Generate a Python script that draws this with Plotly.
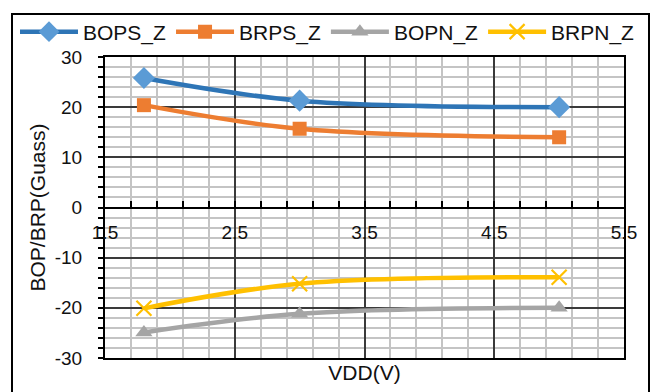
import plotly.graph_objects as go

vdd = [1.8, 3.0, 5.0]
bops_z = [25.8, 21.3, 20.0]
brps_z = [20.4, 15.7, 14.0]
bopn_z = [-24.9, -21.2, -20.0]
brpn_z = [-20.1, -15.2, -13.9]

x_ticks = [1.5, 2.5, 3.5, 4.5, 5.5]
y_ticks = [-30, -20, -10, 0, 10, 20, 30]

FONT = "Liberation Sans, Arial, sans-serif"
L, R, T, B = 105, 29, 57, 34
W, H = 653, 392
PW, PH = W - L - R, H - T - B

series = [
    ("BOPS_Z", bops_z, "#2E75B6", dict(symbol="diamond", size=17, color="#5B9BD5", line=dict(width=0))),
    ("BRPS_Z", brps_z, "#ED7D31", dict(symbol="square", size=14, color="#ED7D31", line=dict(width=0))),
    ("BOPN_Z", bopn_z, "#A5A5A5", dict(symbol="triangle-up", size=15, color="#A5A5A5", line=dict(width=0))),
    ("BRPN_Z", brpn_z, "#FFC000", dict(symbol="x-thin", size=15, color="#FFC000", line=dict(width=2.2, color="#FFC000"))),
]

fig = go.Figure()
for name, vals, lc, mk in series:
    fig.add_trace(go.Scatter(
        x=vdd, y=vals, name=name, mode="lines+markers",
        line=dict(color=lc, width=4.5, shape="spline", smoothing=1.0),
        marker=mk,
    ))

# empty helper trace so the crossing x axis (at y = 0) is drawn
fig.add_trace(go.Scatter(x=[None], y=[None], xaxis="x2", yaxis="y",
                         showlegend=False, hoverinfo="skip", mode="markers"))

major = "#3a3a3a"
minor = "#c4c4c4"

fig.update_layout(
    width=W, height=H,
    margin=dict(l=L, r=R, t=T, b=B),
    paper_bgcolor="white", plot_bgcolor="white",
    font=dict(family=FONT, color="#111111", size=19),
    showlegend=True,
    legend=dict(
        orientation="h", x=(15 - L) / PW, xanchor="left",
        y=1 + (T - 32) / PH, yanchor="middle",
        font=dict(size=21, family=FONT, color="#111111"),
        bgcolor="rgba(0,0,0,0)", itemwidth=58, tracegroupgap=0,
    ),
    xaxis=dict(
        range=[1.5, 5.5], tickmode="array", tickvals=x_ticks,
        showticklabels=False, ticks="",
        showgrid=True, gridcolor=major, gridwidth=1.5,
        minor=dict(dtick=0.2, tick0=1.5, showgrid=True, gridcolor=minor, gridwidth=2, ticks=""),
        showline=True, linecolor="black", linewidth=2, mirror=True,
        zeroline=False,
        title=dict(text="VDD(V)", font=dict(size=21, family=FONT, color="#111111"), standoff=6),
    ),
    xaxis2=dict(
        overlaying="x", anchor="free", position=0.5, side="bottom",
        range=[1.5, 5.5], tickmode="array", tickvals=x_ticks,
        ticktext=[str(v) for v in x_ticks],
        showgrid=False, zeroline=False,
        ticks="inside", ticklen=6, tickwidth=1.5, tickcolor="black",
        minor=dict(dtick=0.2, tick0=1.5, ticks="inside", ticklen=6, tickwidth=1.5, tickcolor="black", showgrid=False),
        showline=True, linecolor="black", linewidth=2,
        tickfont=dict(size=19, family=FONT, color="#111111"),
        ticklabelstandoff=8,
    ),
    yaxis=dict(
        range=[-30, 30], tickmode="array", tickvals=y_ticks,
        ticktext=[str(v) for v in y_ticks],
        showgrid=True, gridcolor=major, gridwidth=1.5,
        minor=dict(dtick=2, tick0=0, showgrid=True, gridcolor=minor, gridwidth=2,
                   ticks="outside", ticklen=5, tickwidth=1.5, tickcolor="black"),
        ticks="outside", ticklen=5, tickwidth=1.5, tickcolor="black",
        showline=True, linecolor="black", linewidth=2, mirror=True,
        zeroline=False,
        tickfont=dict(size=19, family=FONT, color="#111111"),
        ticklabelstandoff=12,
        title=dict(text="BOP/BRP(Guass)", font=dict(size=21, family=FONT, color="#111111"), standoff=3),
    ),
    shapes=[dict(
        type="rect", xref="paper", yref="paper",
        x0=(12 - L) / PW, x1=(649 - L) / PW,
        y0=-0.3, y1=1 + (T - 14) / PH,
        line=dict(color="black", width=2), fillcolor="rgba(0,0,0,0)", layer="below",
    )],
)

fig.write_html("out.html")
